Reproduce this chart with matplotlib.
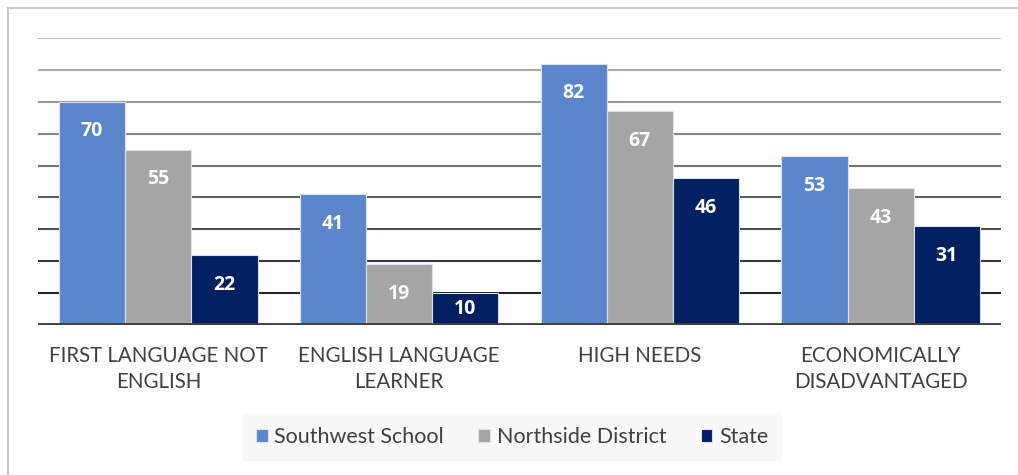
import numpy as np
import matplotlib.pyplot as plt
from matplotlib.patches import Rectangle

categories = ['FIRST LANGUAGE NOT\nENGLISH', 'ENGLISH LANGUAGE\nLEARNER',
              'HIGH NEEDS', 'ECONOMICALLY\nDISADVANTAGED']
series_names = ['Southwest School', 'Northside District', 'State']
southwest = [70, 41, 82, 53]
northside = [55, 19, 67, 43]
state = [22, 10, 46, 31]
colors = ['#5b86cb', '#a5a5a5', '#002060']

plt.rcParams['font.family'] = ['Lato', 'DejaVu Sans']

fig = plt.figure(figsize=(10.18, 4.75), dpi=100)
fig.patches.append(Rectangle((8 / 1018, -0.1), 1.2, (475 - 8) / 475 + 0.1,
                             transform=fig.transFigure, fill=False,
                             edgecolor='#c8c8c8', linewidth=1.5))
ax = fig.add_axes([38 / 1018, 150 / 475, 963 / 1018, 287 / 475])

x = np.arange(len(categories))
w = 0.275
for i, vals in enumerate([southwest, northside, state]):
    bars = ax.bar(x + (i - 1) * w, vals, w, color=colors[i],
                  edgecolor='#dbe2ee', linewidth=0.8, label=series_names[i],
                  zorder=3)
    for b, v in zip(bars, vals):
        # inside end, but centred when the bar is too short
        ax.text(b.get_x() + b.get_width() / 2, max(v - 9.3, v / 2), str(v),
                ha='center', va='center', color='white',
                family=['Open Sans', 'DejaVu Sans'],
                fontsize=14, fontweight='bold', zorder=7)

# gridlines fade from light gray (top) to near black (bottom)
grid_vals = np.arange(10, 100, 10)
for g in grid_vals:
    t = (g - 10) / 80
    c = 0.15 + 0.6 * t
    ax.axhline(g, color=(c, c, c), linewidth=1.5, zorder=1)
ax.axhline(0, color='#404040', linewidth=3.5, zorder=5)

ax.set_xlim(-0.5, 3.5)
ax.set_ylim(0, 90)
ax.set_yticks([])
ax.set_xticks(x)
ax.set_xticklabels(categories, fontsize=14.8, color='#404040',
                   linespacing=1.4)
ax.tick_params(axis='x', length=0, pad=15)
for s in ax.spines.values():
    s.set_visible(False)

leg = fig.legend(loc='center', bbox_to_anchor=(512 / 1018, 1 - 437 / 475),
                 ncol=3, fontsize=15.5, frameon=True, fancybox=False,
                 handlelength=0.55, handleheight=0.55, handletextpad=0.3,
                 columnspacing=1.6, borderpad=0.6)
leg.get_frame().set_facecolor('#f7f7f7')
leg.get_frame().set_edgecolor('#f7f7f7')
for t in leg.get_texts():
    t.set_color('#404040')

fig.savefig('out.png', dpi=100)
